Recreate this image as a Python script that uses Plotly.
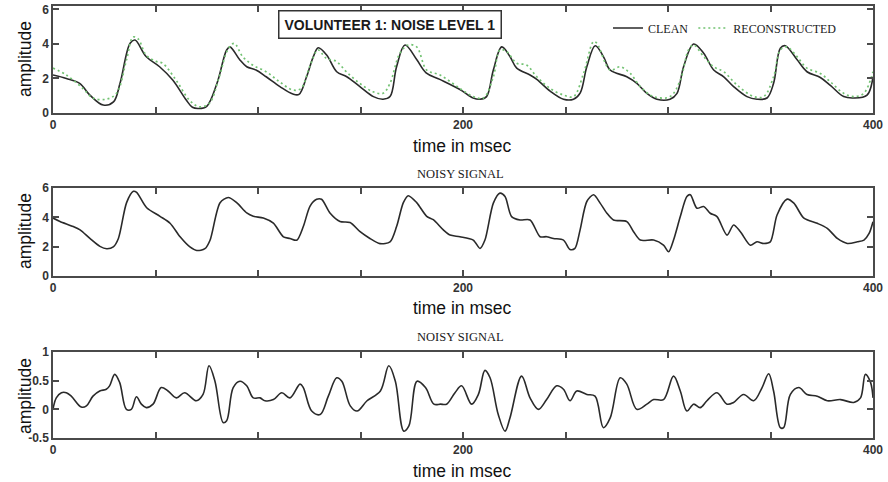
import plotly.graph_objects as go

# ---------------- data ----------------
clean_t = [0, 6.5, 13, 18, 24.5, 29.5, 32.7, 37.6, 40, 45.4, 52, 58.4, 65, 68, 71, 75, 80, 84.7, 86.3, 91,
           94.5, 99, 104, 110.7, 117, 120, 123.7, 127, 129.4, 133.5, 138.4, 143.3, 149.7, 156.3, 161, 164.4,
           167.6, 171.7, 177.4, 182, 188.7, 198.5, 205, 208.3, 211.5, 214.8, 218.9, 222.9, 226.2, 232.7,
           236, 242.5, 249, 253.9, 257.2, 260.4, 264.5, 268.5, 271.8, 279.9, 284.8, 289.7, 294.6, 301,
           304.4, 307.6, 312.5, 317.4, 322.3, 327.2, 332, 338.5, 343.4, 348.3, 351.5, 354.8, 357.2, 362.9,
           367.8, 374.3, 379.2, 385.7, 390.6, 397.1, 400]
clean_v = [2.2, 2.0, 1.72, 1.04, 0.46, 0.64, 1.72, 4.04, 4.23, 3.27, 2.68, 1.91, 0.75, 0.33, 0.26, 0.39, 1.72,
           3.65, 3.83, 3.1, 2.68, 2.49, 2.1, 1.53, 1.1, 1.08, 2.1, 3.27, 3.78, 3.36, 2.39, 2.1, 1.53, 0.95,
           0.8, 0.95, 2.68, 3.94, 3.1, 2.33, 1.95, 1.36, 0.87, 0.8, 0.95, 2.49, 3.83, 3.27, 2.6, 2.2, 1.95,
           1.27, 0.8, 0.8, 1.17, 2.68, 3.9, 3.27, 2.49, 2.1, 1.72, 1.14, 0.8, 0.8, 1.14, 2.68, 4.0, 3.46,
           2.49, 2.1, 1.53, 0.95, 0.8, 0.87, 1.72, 3.75, 3.9, 3.1, 2.39, 2.06, 1.6, 0.95, 0.87, 1.04, 2.1]

recon_t = [0, 6.5, 14.6, 19.5, 26, 31, 35.9, 39, 41.5, 45.4, 50.3, 53.5, 60, 66.5, 71.3, 76.2, 81.1, 85.2,
           88.4, 92.5, 97.4, 104, 110.5, 117, 121, 125.2, 129.3, 133.3, 138.2, 143.1, 149.6, 156.1, 161,
           164.4, 169.2, 173.3, 177.4, 182.3, 188.8, 198.5, 205, 210, 214.8, 218, 221.3, 226.2, 231, 236,
           242.5, 249, 253.9, 258.8, 263.7, 265.3, 271.8, 276.7, 281.6, 286.5, 293, 301, 306, 310, 312.5,
           317.4, 322.3, 327.2, 333.7, 341.8, 346.7, 351.5, 354.8, 358, 362.9, 367.8, 374.3, 379.2, 385.7,
           390.6, 395.5, 400]
recon_v = [2.6, 2.2, 1.42, 0.87, 0.8, 1.14, 3.1, 4.4, 4.3, 3.36, 2.99, 2.88, 1.91, 0.75, 0.36, 0.55, 2.1,
           3.65, 4.04, 3.27, 2.78, 2.39, 1.81, 1.33, 1.42, 2.68, 3.65, 3.17, 2.99, 2.39, 1.72, 1.23, 1.14,
           1.72, 3.46, 3.94, 3.83, 2.49, 2.2, 1.42, 0.95, 0.87, 2.1, 3.65, 3.56, 2.88, 2.78, 2.1, 1.42,
           1.04, 0.95, 2.29, 4.14, 4.04, 2.49, 2.68, 2.29, 1.53, 0.95, 0.95, 1.91, 3.65, 3.94, 3.27, 2.68,
           2.39, 1.62, 0.95, 0.95, 2.1, 3.65, 3.83, 3.27, 2.6, 2.29, 1.81, 1.14, 0.95, 1.14, 2.39]

noisy_t = [0, 3.4, 9.9, 13.2, 18, 22.9, 26.2, 29.4, 31.9, 35.9, 39.2, 40.8, 45.7, 52.2, 57.1, 62, 66.8,
           70.1, 74.1, 76.6, 81.5, 85.5, 89.6, 94.5, 97.7, 102.6, 107.5, 112.4, 115.6, 118.9, 122.1,
           125.4, 128.6, 131, 135.1, 140, 144.9, 149.8, 154.6, 159.5, 164.4, 167.6, 170.9, 173.3, 177.4,
           182.3, 185.5, 190.4, 193.7, 198.5, 205, 208.3, 210.7, 214.8, 218, 220.5, 223.7, 227.8, 232.7,
           237.6, 240.8, 244.1, 249, 252.2, 254.6, 257.1, 260.4, 263.7, 266.9, 270.2, 273.4, 279.9,
           283.2, 286.5, 293, 297.8, 300.3, 302.7, 306, 309.2, 310.9, 314.1, 317.4, 320.6, 323.9, 328.8,
           332, 335.3, 340.2, 343.4, 346.7, 349.9, 353.2, 358.1, 361.4, 366.3, 372.8, 377.7, 382.6,
           387.5, 392.4, 395.6, 398.1, 400]
noisy_v = [3.95, 3.72, 3.37, 3.14, 2.56, 2.02, 1.86, 1.98, 2.56, 5.0, 5.77, 5.7, 4.65, 4.07, 3.6, 2.67,
           1.98, 1.74, 1.86, 2.44, 5.0, 5.35, 5.0, 4.3, 4.07, 3.95, 3.6, 2.67, 2.56, 2.44, 3.37, 4.77, 5.23,
           5.23, 4.3, 3.72, 3.65, 3.02, 2.56, 2.21, 2.33, 3.37, 5.0, 5.47, 5.0, 4.07, 3.84, 3.14, 2.79,
           2.68, 2.45, 1.88, 2.45, 4.97, 5.65, 5.42, 4.05, 3.82, 3.82, 2.68, 2.68, 2.56, 2.45, 1.81, 1.88,
           3.13, 5.08, 5.54, 4.97, 4.28, 3.82, 3.71, 3.02, 2.45, 2.45, 2.1, 1.65, 2.45, 4.05, 5.42, 5.54,
           4.62, 4.74, 4.28, 4.05, 2.79, 3.48, 3.02, 2.1, 2.33, 2.22, 2.33, 4.16, 5.24, 4.97, 3.94, 3.59,
           3.25, 2.56, 2.22, 2.33, 2.45, 2.9, 3.7]

ac_t = [0, 1.6, 4.1, 6.5, 8.9, 13.8, 16.3, 19.5, 22.8, 26, 27.6, 30.1, 32.5, 35.8, 38.2, 40.7, 43.1, 45.5,
        48.8, 52.8, 56.1, 60.2, 64.2, 69.9, 73.2, 76.1, 79, 83, 84.7, 87.9, 91.2, 94.5, 97.7, 101, 103.4,
        107.5, 111.6, 115.6, 120.5, 122.1, 126.2, 130.3, 134.3, 138.4, 140.9, 145, 148.3, 153.2, 159.7,
        163.8, 167, 171.1, 173.6, 177.6, 181.7, 185.8, 189, 192, 196.1, 199.3, 204.2, 207.5, 210.7,
        213.2, 217.2, 220.5, 222.9, 228.6, 232.7, 236.8, 240.8, 245.7, 249, 252.2, 255.5, 260.4, 264.4,
        268.5, 271.8, 276.7, 279.9, 284.8, 289.7, 293, 297.8, 302.7, 306, 309.2, 312.5, 315.7, 319,
        323.9, 328.8, 332, 336.9, 341.8, 345.9, 349.1, 351.5, 354.8, 356.4, 359.7, 363.8, 367.8, 372.8,
        377.7, 384.2, 390.6, 393.9, 396.3, 398.8, 400]
ac_v = [0.0, 0.2, 0.29, 0.29, 0.23, 0.04, 0.06, 0.23, 0.32, 0.35, 0.41, 0.61, 0.47, 0.0, 0.0, 0.22, 0.09,
        0.03, 0.09, 0.38, 0.32, 0.2, 0.29, 0.15, 0.26, 0.76, 0.49, -0.23, -0.2, 0.38, 0.49, 0.41, 0.2, 0.2,
        0.15, 0.17, 0.29, 0.2, 0.44, 0.38, -0.03, -0.09, 0.23, 0.55, 0.49, 0.06, -0.03, 0.15, 0.32, 0.76,
        0.49, -0.38, -0.29, 0.49, 0.38, 0.09, 0.09, 0.09, 0.29, 0.41, 0.09, 0.26, 0.68, 0.55, -0.09, -0.38,
        -0.15, 0.58, 0.2, 0.0, 0.17, 0.41, 0.35, 0.15, 0.32, 0.26, 0.23, -0.32, -0.15, 0.55, 0.44, 0.0,
        0.09, 0.17, 0.17, 0.58, 0.32, -0.03, 0.09, 0.03, 0.15, 0.29, 0.09, 0.12, 0.26, 0.15, 0.38, 0.62,
        0.32, -0.32, -0.32, 0.26, 0.38, 0.26, 0.23, 0.15, 0.17, 0.12, 0.2, 0.61, 0.47, 0.2]

x_tickvals = [0, 50, 100, 150, 200, 250, 300, 350, 400]
x_ticktext = ["0", "", "", "", "200", "", "", "", "400"]
y1_ticks = [0, 2, 4, 6]
y2_ticks = [0, 2, 4, 6]
y3_ticks = [-0.5, 0, 0.5, 1]
y3_ticktext = ["-0.5", "0", "0.5", "1"]

# ---------------- figure ----------------
W, H = 888, 482
LINE = "#2a2a2a"
GREEN = "#72c272"
FRAME = "#4a4a4a"

fig = go.Figure()
fig.add_trace(go.Scatter(x=clean_t, y=clean_v, mode="lines", name="CLEAN",
                         line=dict(color=LINE, width=1.6, shape="spline", smoothing=1.0),
                         xaxis="x", yaxis="y"))
fig.add_trace(go.Scatter(x=recon_t, y=recon_v, mode="lines", name="RECONSTRUCTED",
                         line=dict(color=GREEN, width=1.7, dash="2px,3px", shape="spline", smoothing=1.0),
                         xaxis="x", yaxis="y"))
fig.add_trace(go.Scatter(x=noisy_t, y=noisy_v, mode="lines", showlegend=False,
                         line=dict(color=LINE, width=1.6, shape="spline", smoothing=0.8),
                         xaxis="x2", yaxis="y2"))
fig.add_trace(go.Scatter(x=ac_t, y=ac_v, mode="lines", showlegend=False,
                         line=dict(color=LINE, width=1.6, shape="spline", smoothing=1.0),
                         xaxis="x3", yaxis="y3"))

xdom = [53 / W, 873 / W]


def ydom(top_px, bot_px):
    return [1 - bot_px / H, 1 - top_px / H]


tickfont = dict(family="Liberation Sans, Arial", size=12, color="#333333", weight="bold")
common_x = dict(range=[0, 400], domain=xdom, tickmode="array", tickvals=x_tickvals,
                ticktext=x_ticktext, ticks="inside", ticklen=6, tickwidth=1.5, tickcolor=FRAME,
                showline=True, linecolor=FRAME, linewidth=1.5, mirror="ticks", showgrid=False,
                zeroline=False, tickfont=tickfont, automargin=False)
common_y = dict(ticks="inside", ticklen=6, tickwidth=1.5, tickcolor=FRAME, showline=True,
                linecolor=FRAME, linewidth=1.5, mirror="ticks", showgrid=False, zeroline=False,
                tickfont=tickfont, tickmode="array", automargin=False)

fig.update_layout(
    width=W, height=H, margin=dict(l=0, r=0, t=0, b=0, pad=0, autoexpand=False),
    paper_bgcolor="white", plot_bgcolor="white",
    xaxis=dict(**common_x, anchor="y"),
    yaxis=dict(**common_y, domain=ydom(6, 113), range=[0, 6.2], tickvals=y1_ticks, anchor="x"),
    xaxis2=dict(**common_x, anchor="y2"),
    yaxis2=dict(**common_y, domain=ydom(188, 276), range=[0, 6], tickvals=y2_ticks, anchor="x2"),
    xaxis3=dict(**common_x, anchor="y3"),
    yaxis3=dict(**common_y, domain=ydom(352, 438), range=[-0.5, 1], tickvals=y3_ticks,
                ticktext=y3_ticktext, anchor="x3"),
    showlegend=True,
    legend=dict(orientation="h", x=608 / W, xanchor="left", y=1 - 28 / H, yanchor="middle",
                bgcolor="rgba(0,0,0,0)", borderwidth=0,
                font=dict(family="Liberation Serif, Times New Roman", size=12, color="#1a1a1a"),
                itemwidth=30, tracegroupgap=0),
)

annots = []
# boxed title
annots.append(dict(text="<b>VOLUNTEER 1: NOISE LEVEL 1</b>", x=389.5 / W, y=1 - 24 / H,
                   xref="paper", yref="paper", showarrow=False, xanchor="center", yanchor="middle",
                   font=dict(family="Liberation Sans, Arial", size=14, color="#1a1a1a"),
                   bordercolor="#333333", borderwidth=1.5, borderpad=5, bgcolor="white"))
# axis titles
for ycen in (59, 231, 396):
    annots.append(dict(text="amplitude", x=25 / W, y=1 - ycen / H, xref="paper", yref="paper",
                       showarrow=False, textangle=-90, xanchor="center", yanchor="middle",
                       font=dict(family="Liberation Sans, Arial", size=17.5, color="#111111")))
for ycen in (146, 308, 471):
    annots.append(dict(text="time in msec", x=462 / W, y=1 - ycen / H, xref="paper", yref="paper",
                       showarrow=False, xanchor="center", yanchor="middle",
                       font=dict(family="Liberation Sans, Arial", size=17.5, color="#111111")))
# subplot titles
for ycen in (174, 337):
    annots.append(dict(text="NOISY SIGNAL", x=460 / W, y=1 - ycen / H, xref="paper", yref="paper",
                       showarrow=False, xanchor="center", yanchor="middle",
                       font=dict(family="Liberation Serif, Times New Roman", size=12.5, color="#1a1a1a")))
fig.update_layout(annotations=annots)

fig.write_html("out.html")
